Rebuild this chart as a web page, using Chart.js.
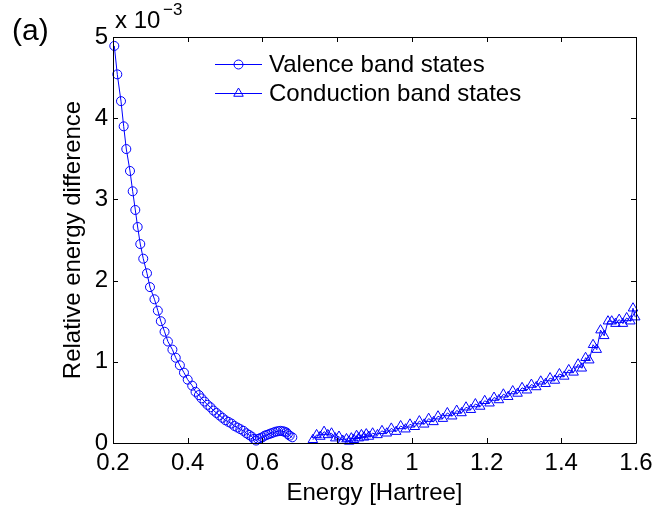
<!DOCTYPE html>
<html>
<head>
<meta charset="utf-8">
<script src="https://cdn.jsdelivr.net/npm/chart.js@4.4.1/dist/chart.umd.min.js"></script>
<style>
  html, body { margin: 0; padding: 0; background: #fff; }
  #wrap { width: 672px; height: 510px; }
</style>
</head>
<body>
<div id="wrap"><canvas id="myChart" width="672" height="510"></canvas></div>
<script>
const BLUE = 'rgb(0, 0, 255)';
const FONT = '"Liberation Sans", Arial, Helvetica, sans-serif';

// x ticks and y ticks (y values are in units of 1e-3)
const xTicks = [0.2, 0.4, 0.6, 0.8, 1, 1.2, 1.4, 1.6];
const yTicks = [0, 1, 2, 3, 4, 5];

// Valence band states
const valenceX = [0.2035, 0.2115, 0.2214, 0.2286, 0.2356, 0.2455, 0.2527, 0.2597, 0.266, 0.273,
  0.281, 0.291, 0.299, 0.311, 0.320, 0.328, 0.338, 0.347, 0.359, 0.368,
  0.379, 0.390, 0.400, 0.412, 0.421, 0.430, 0.437, 0.445, 0.453, 0.461,
  0.469, 0.477, 0.485, 0.493, 0.501, 0.509, 0.517, 0.525, 0.533, 0.541,
  0.549, 0.557, 0.564, 0.571, 0.577, 0.583, 0.588, 0.594, 0.600, 0.606,
  0.612, 0.618, 0.624, 0.630, 0.636, 0.642, 0.648, 0.654, 0.659, 0.664,
  0.668, 0.673, 0.680];
const valenceY = [4.89, 4.54, 4.21, 3.90, 3.62, 3.35, 3.10, 2.87, 2.66, 2.45,
  2.27, 2.09, 1.92, 1.77, 1.63, 1.50, 1.37, 1.25, 1.15, 1.05,
  0.957, 0.866, 0.78, 0.706, 0.63, 0.59, 0.55, 0.51, 0.47, 0.44,
  0.40, 0.37, 0.34, 0.31, 0.28, 0.26, 0.24, 0.21, 0.19, 0.17,
  0.15, 0.12, 0.10, 0.08, 0.05, 0.03, 0.05, 0.06, 0.07, 0.09,
  0.10, 0.11, 0.12, 0.13, 0.14, 0.145, 0.15, 0.145, 0.14, 0.13,
  0.11, 0.09, 0.07];

// Conduction band states
const conductionX = [0.735, 0.745, 0.755, 0.765, 0.775, 0.785, 0.795, 0.805, 0.815, 0.825,
  0.832, 0.838, 0.845, 0.852, 0.858, 0.865, 0.872, 0.878, 0.885, 0.895,
  0.908, 0.920, 0.933, 0.945, 0.958, 0.970, 0.983, 0.995, 1.008, 1.020,
  1.033, 1.045, 1.058, 1.070, 1.083, 1.095, 1.108, 1.120, 1.133, 1.145,
  1.158, 1.170, 1.183, 1.195, 1.208, 1.220, 1.233, 1.245, 1.258, 1.270,
  1.283, 1.295, 1.308, 1.320, 1.333, 1.345, 1.358, 1.370, 1.383, 1.395,
  1.408, 1.420, 1.433, 1.445, 1.455, 1.465, 1.475, 1.485, 1.495, 1.505,
  1.515, 1.525, 1.535, 1.545, 1.555, 1.565, 1.575, 1.585, 1.592, 1.598];
const conductionY = [0.04, 0.10, 0.08, 0.14, 0.10, 0.12, 0.06, 0.08, 0.03, 0.05,
  0.02, 0.06, 0.04, 0.09, 0.06, 0.10, 0.07, 0.11, 0.08, 0.12,
  0.10, 0.15, 0.12, 0.18, 0.14, 0.21, 0.17, 0.23, 0.20, 0.27,
  0.23, 0.30, 0.26, 0.33, 0.30, 0.37, 0.33, 0.40, 0.37, 0.44,
  0.41, 0.48, 0.45, 0.52, 0.49, 0.56, 0.53, 0.60, 0.57, 0.64,
  0.61, 0.68, 0.65, 0.72, 0.69, 0.76, 0.73, 0.80, 0.77, 0.85,
  0.82, 0.90, 0.87, 0.97, 0.92, 1.05, 1.02, 1.21, 1.15, 1.39,
  1.32, 1.50, 1.50, 1.47, 1.52, 1.47, 1.54, 1.50, 1.66, 1.55];

const seriesLabels = ['Valence band states', 'Conduction band states'];
const seriesMarkers = ['circle', 'triangle'];
const markerSizes = [4.5, 5.5];

function toPoints(xs, ys) {
    return xs.map((x, i) => ({ x: x, y: ys[i] }));
}

function getDataset(label, data, pointStyle, pointRadius) {
    return {
        label,
        data,
        showLine: true,
        borderColor: BLUE,
        borderWidth: 1,
        backgroundColor: 'rgba(0,0,0,0)',
        pointStyle,
        pointRadius,
        pointBorderColor: BLUE,
        pointBorderWidth: 1,
        pointBackgroundColor: 'rgba(0,0,0,0)',
        clip: false
    };
}

// MATLAB style box, inward ticks, legend, exponent and panel label
const matlabDecor = {
    id: 'matlabDecor',
    afterDraw(chart) {
        const ctx = chart.ctx;
        const a = chart.chartArea;
        const xs = chart.scales.x, ys = chart.scales.y;
        const TL = 5;
        ctx.save();
        ctx.strokeStyle = '#000';
        ctx.lineWidth = 1;
        ctx.beginPath();
        ctx.rect(Math.round(a.left) + 0.5, Math.round(a.top) + 0.5,
            Math.round(a.right - a.left), Math.round(a.bottom - a.top));
        xTicks.forEach(v => {
            const px = Math.round(xs.getPixelForValue(v)) + 0.5;
            ctx.moveTo(px, a.bottom); ctx.lineTo(px, a.bottom - TL);
            ctx.moveTo(px, a.top); ctx.lineTo(px, a.top + TL);
        });
        yTicks.forEach(v => {
            const py = Math.round(ys.getPixelForValue(v)) + 0.5;
            ctx.moveTo(a.left, py); ctx.lineTo(a.left + TL, py);
            ctx.moveTo(a.right, py); ctx.lineTo(a.right - TL, py);
        });
        ctx.stroke();

        // exponent label
        ctx.fillStyle = '#000';
        ctx.textAlign = 'left';
        ctx.textBaseline = 'alphabetic';
        ctx.font = '24px ' + FONT;
        ctx.fillText('x 10', a.left + 2, 28);
        ctx.font = '17px ' + FONT;
        ctx.fillText('\u22123', a.left + 50, 15);

        // panel label
        ctx.font = '30px ' + FONT;
        ctx.fillText('(a)', 12, 40);

        // legend
        const rows = [64, 93];
        ctx.font = '24px ' + FONT;
        ctx.textBaseline = 'middle';
        rows.forEach((y, i) => {
            ctx.strokeStyle = BLUE;
            ctx.fillStyle = 'rgba(0,0,0,0)';
            ctx.beginPath();
            ctx.moveTo(215, y + 0.5); ctx.lineTo(262, y + 0.5);
            ctx.stroke();
            Chart.helpers.drawPoint(ctx, {
                pointStyle: seriesMarkers[i],
                radius: markerSizes[i],
                borderWidth: 1
            }, 238.5, y + 0.5);
            ctx.fillStyle = '#000';
            ctx.fillText(seriesLabels[i], 269, y + 1);
        });
        ctx.restore();
    }
};

const ctx = document.getElementById('myChart').getContext('2d');

new Chart(ctx, {
    type: 'scatter',
    data: {
        datasets: [
            getDataset(seriesLabels[0], toPoints(valenceX, valenceY), seriesMarkers[0], markerSizes[0]),
            getDataset(seriesLabels[1], toPoints(conductionX, conductionY), seriesMarkers[1], markerSizes[1])
        ]
    },
    options: {
        animation: false,
        responsive: false,
        devicePixelRatio: 1,
        layout: { padding: { left: 59, top: 37, right: 36, bottom: 2 } },
        plugins: {
            legend: { display: false },
            tooltip: { enabled: false }
        },
        scales: {
            x: {
                type: 'linear',
                min: 0.2,
                max: 1.6,
                afterBuildTicks: (scale) => { scale.ticks = xTicks.map(v => ({ value: v })); },
                afterFit: (scale) => { scale.height = 65; scale.paddingLeft = 0; scale.paddingRight = 0; },
                grid: { display: false, drawTicks: false },
                border: { display: false },
                ticks: {
                    color: '#000',
                    padding: 8,
                    maxRotation: 0,
                    font: { family: FONT, size: 24, lineHeight: 1 },
                    callback: (v) => String(v)
                },
                title: {
                    display: true,
                    text: 'Energy [Hartree]',
                    color: '#000',
                    padding: 0,
                    font: { family: FONT, size: 24, lineHeight: 1.2 }
                }
            },
            y: {
                type: 'linear',
                min: 0,
                max: 5,
                afterBuildTicks: (scale) => { scale.ticks = yTicks.map(v => ({ value: v })); },
                afterFit: (scale) => { scale.width = 54; },
                grid: { display: false, drawTicks: false },
                border: { display: false },
                ticks: {
                    color: '#000',
                    padding: 5,
                    font: { family: FONT, size: 24, lineHeight: 1 },
                    callback: (v) => String(v)
                },
                title: {
                    display: true,
                    text: 'Relative energy difference',
                    color: '#000',
                    padding: 0,
                    font: { family: FONT, size: 24, lineHeight: 1.2 }
                }
            }
        }
    },
    plugins: [matlabDecor]
});
</script>
</body>
</html>
